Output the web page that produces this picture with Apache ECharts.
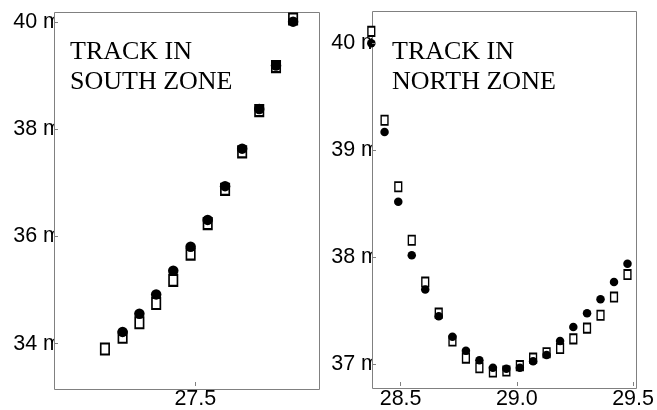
<!DOCTYPE html>
<html>
<head>
<meta charset="utf-8">
<script src="https://cdn.jsdelivr.net/npm/echarts@6/dist/echarts.min.js"></script>
<style>
html,body{margin:0;padding:0;background:#fff;}
#chart{width:657px;height:410px;}
</style>
</head>
<body>
<div id="chart"></div>
<script>
// ---- data ----
const southX = [27.193, 27.253, 27.310, 27.367, 27.425, 27.484, 27.542, 27.601, 27.659, 27.717, 27.774, 27.832];
const southSquare = [33.90, 34.12, 34.39, 34.75, 35.18, 35.67, 36.24, 36.88, 37.58, 38.35, 39.17, 40.06];
const southCircle = [null, 34.22, 34.56, 34.92, 35.36, 35.81, 36.31, 36.94, 37.64, 38.38, 39.19, 40.01];

const northX = [28.374, 28.431, 28.490, 28.548, 28.606, 28.664, 28.723, 28.781, 28.839, 28.897, 28.955, 29.013, 29.070, 29.128, 29.186, 29.243, 29.302, 29.360, 29.418, 29.476];
const northSquare = [40.11, 39.28, 38.66, 38.16, 37.77, 37.48, 37.22, 37.06, 36.97, 36.93, 36.94, 36.99, 37.06, 37.11, 37.15, 37.24, 37.34, 37.46, 37.63, 37.84];
const northCircle = [40.00, 39.17, 38.52, 38.02, 37.70, 37.45, 37.26, 37.13, 37.04, 36.97, 36.96, 36.97, 37.03, 37.09, 37.22, 37.35, 37.48, 37.61, 37.77, 37.94];

const southXTicks = [27.5];
const northXTicks = [28.5, 29.0, 29.5];
const southYTicks = [34, 36, 38, 40];
const northYTicks = [37, 38, 39, 40];

const southTitle = 'TRACK IN\nSOUTH ZONE';
const northTitle = 'TRACK IN\nNORTH ZONE';

// ---- layout ----
const G0 = {left: 54, top: 12, width: 265, height: 377};
const G1 = {left: 372, top: 11, width: 264, height: 377};
const FRAME = '#808080';
const LABEL_FONT = {fontFamily: 'Liberation Sans', fontSize: 21.5, color: '#000'};

function pairs(xs, ys) {
  const out = [];
  xs.forEach((x, i) => { if (ys[i] != null) out.push([x, ys[i]]); });
  return out;
}

function xAxis(gridIndex, min, max, ticks) {
  return {
    type: 'value', gridIndex, min, max, z: 3, position: 'bottom',
    axisLine: {show: false},
    splitLine: {show: false},
    axisTick: {show: true, inside: true, length: 4, customValues: ticks, lineStyle: {color: FRAME}},
    axisLabel: Object.assign({show: true, margin: 2, customValues: ticks, formatter: v => v.toFixed(1)}, LABEL_FONT)
  };
}
function yLabelAxis(gridIndex, min, max, ticks) {
  return {
    type: 'value', gridIndex, min, max, z: 0, position: 'left',
    axisLine: {show: false},
    splitLine: {show: false},
    axisTick: {show: false},
    axisLabel: Object.assign({show: true, margin: -7, customValues: ticks, formatter: v => v + ' m', padding: [4, 0, 0, 0]}, LABEL_FONT)
  };
}
function yTickAxis(gridIndex, min, max, ticks) {
  return {
    type: 'value', gridIndex, min, max, z: 3, position: 'left', offset: 0,
    axisLine: {show: false},
    splitLine: {show: false},
    axisTick: {show: true, inside: true, length: 4, customValues: ticks, lineStyle: {color: FRAME}},
    axisLabel: {show: false}
  };
}

const chart = echarts.init(document.getElementById('chart'), null, {renderer: 'canvas'});
chart.setOption({
  animation: false,
  backgroundColor: '#fff',
  title: [
    {text: southTitle, left: 70, top: 37, padding: 0,
     textStyle: {fontFamily: 'Liberation Serif', fontSize: 26, lineHeight: 30, fontWeight: 'normal', color: '#000'}},
    {text: northTitle, left: 392, top: 37, padding: 0,
     textStyle: {fontFamily: 'Liberation Serif', fontSize: 26, lineHeight: 30, fontWeight: 'normal', color: '#000'}}
  ],
  grid: [
    Object.assign({show: false}, G0),
    Object.assign({show: false}, G1)
  ],
  xAxis: [
    xAxis(0, 27.02, 27.92, southXTicks),
    xAxis(1, 28.377, 29.5, northXTicks)
  ],
  yAxis: [
    yLabelAxis(0, 33.21, 40.19, southYTicks),
    yTickAxis(0, 33.21, 40.19, southYTicks),
    yLabelAxis(1, 36.80, 40.30, northYTicks),
    yTickAxis(1, 36.80, 40.30, northYTicks)
  ],
  graphic: [
    {type: 'rect', z: 1, silent: true,
     shape: {x: G0.left + 0.5, y: G0.top + 0.5, width: G0.width, height: G0.height},
     style: {fill: '#fff', stroke: FRAME, lineWidth: 1}},
    {type: 'rect', z: 1, silent: true,
     shape: {x: G1.left + 0.5, y: G1.top + 0.5, width: G1.width, height: G1.height},
     style: {fill: '#fff', stroke: FRAME, lineWidth: 1}}
  ],
  series: [
    {type: 'scatter', xAxisIndex: 0, yAxisIndex: 1, clip: false, z: 2,
     symbol: 'rect', symbolSize: [8.4, 11],
     itemStyle: {color: '#fff', borderColor: '#000', borderWidth: 1.9, opacity: 1},
     data: pairs(southX, southSquare)},
    {type: 'scatter', xAxisIndex: 0, yAxisIndex: 1, clip: false, z: 2,
     symbol: 'circle', symbolSize: 10.5,
     itemStyle: {color: '#000', opacity: 1},
     data: pairs(southX, southCircle)},
    {type: 'scatter', xAxisIndex: 1, yAxisIndex: 3, clip: false, z: 2,
     symbol: 'rect', symbolSize: [6.8, 9.2],
     itemStyle: {color: '#fff', borderColor: '#000', borderWidth: 1.6, opacity: 1},
     data: pairs(northX, northSquare)},
    {type: 'scatter', xAxisIndex: 1, yAxisIndex: 3, clip: false, z: 2,
     symbol: 'circle', symbolSize: 8.5,
     itemStyle: {color: '#000', opacity: 1},
     data: pairs(northX, northCircle)}
  ]
});
</script>
</body>
</html>
